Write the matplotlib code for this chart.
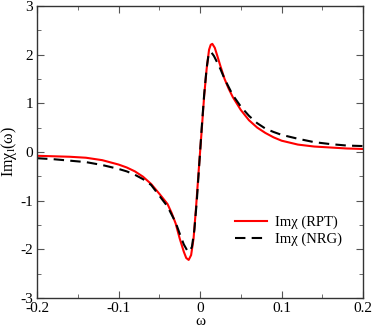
import numpy as np
import matplotlib.pyplot as plt
from matplotlib.ticker import MultipleLocator

plt.rcParams['font.family'] = ['Liberation Serif', 'DejaVu Serif']
plt.rcParams['mathtext.fontset'] = 'custom'
plt.rcParams['mathtext.rm'] = 'Liberation Serif'
plt.rcParams['mathtext.it'] = 'Liberation Serif'

# RPT curve (red)
w_rpt = [-0.2, -0.18, -0.16, -0.14, -0.12, -0.10, -0.09, -0.08, -0.07, -0.06,
         -0.05, -0.04, -0.035, -0.03, -0.025, -0.02, -0.017, -0.014, -0.011,
         -0.008, -0.005, -0.002, 0.0, 0.002, 0.005, 0.008, 0.011, 0.013, 0.015,
         0.018, 0.021, 0.025, 0.03, 0.035, 0.04, 0.05, 0.06, 0.07, 0.08, 0.09,
         0.10, 0.12, 0.14, 0.16, 0.18, 0.20]
im_rpt = [-0.08, -0.09, -0.10, -0.12, -0.17, -0.26, -0.32, -0.40, -0.51, -0.66,
          -0.86, -1.07, -1.25, -1.47, -1.78, -2.05, -2.18, -2.22, -2.12,
          -1.78, -1.15, -0.45, 0.0, 0.45, 1.15, 1.70, 2.10, 2.20, 2.22,
          2.14, 1.98, 1.76, 1.50, 1.30, 1.13, 0.86, 0.65, 0.50, 0.39, 0.30,
          0.23, 0.15, 0.11, 0.09, 0.07, 0.06]

# NRG curve (black dashed)
w_nrg = [-0.2, -0.18, -0.16, -0.14, -0.12, -0.10, -0.09, -0.08, -0.07, -0.06,
         -0.05, -0.04, -0.03, -0.025, -0.02, -0.016, -0.013, -0.010, -0.007,
         -0.004, -0.001, 0.0, 0.002, 0.005, 0.008, 0.010, 0.012, 0.014, 0.017,
         0.020, 0.025, 0.03, 0.04, 0.05, 0.06, 0.07, 0.08, 0.09, 0.10, 0.12,
         0.14, 0.16, 0.18, 0.20]
im_nrg = [-0.13, -0.15, -0.18, -0.21, -0.27, -0.35, -0.40, -0.47, -0.56, -0.68,
          -0.90, -1.12, -1.45, -1.68, -1.90, -2.02, -2.05, -1.95, -1.60,
          -1.00, -0.25, 0.0, 0.50, 1.18, 1.72, 1.95, 2.05, 2.04, 1.97,
          1.87, 1.70, 1.50, 1.17, 0.93, 0.74, 0.59, 0.48, 0.41, 0.35, 0.27,
          0.20, 0.16, 0.13, 0.12]

xticks = [-0.2, -0.1, 0, 0.1, 0.2]
xlabels = ['-0.2', '-0.1', '0', '0.1', '0.2']
yticks = [-3, -2, -1, 0, 1, 2, 3]
ylabels = ['-3', '-2', '-1', '0', '1', '2', '3']

fig = plt.figure(figsize=(3.74, 3.27), dpi=100)
ax = fig.add_axes([0.099, 0.089, 0.872, 0.893])

ax.plot(w_rpt, im_rpt, color='red', lw=1.5, label='Imχ (RPT)')
ax.plot(w_nrg, im_nrg, color='black', lw=1.5, dashes=(5, 3), label='Imχ (NRG)')

ax.set_xlim(-0.2, 0.2)
ax.set_ylim(-3, 3)
ax.set_xticks(xticks)
ax.set_xticklabels(xlabels)
ax.set_yticks(yticks)
ax.set_yticklabels(ylabels)
ax.xaxis.set_minor_locator(MultipleLocator(0.05))
ax.yaxis.set_minor_locator(MultipleLocator(0.5))
ax.tick_params(which='both', direction='in', top=True, right=True,
               labelsize=11, color='#555555')
ax.tick_params(which='major', length=5, pad=3)
ax.tick_params(which='minor', length=3)
for s in ax.spines.values():
    s.set_linewidth(1.0)
    s.set_color('#333333')

ax.set_xlabel('ω', fontsize=11, labelpad=0)
ax.set_ylabel('Imχ$_\\mathrm{l}$(ω)', fontsize=11.5, labelpad=1)

ax.legend(loc='lower right', frameon=False, fontsize=10.5, handlelength=2.2,
          handletextpad=0.5, labelspacing=0.25, borderpad=0.2,
          bbox_to_anchor=(0.965, 0.143))

plt.savefig('out.png', dpi=100)
